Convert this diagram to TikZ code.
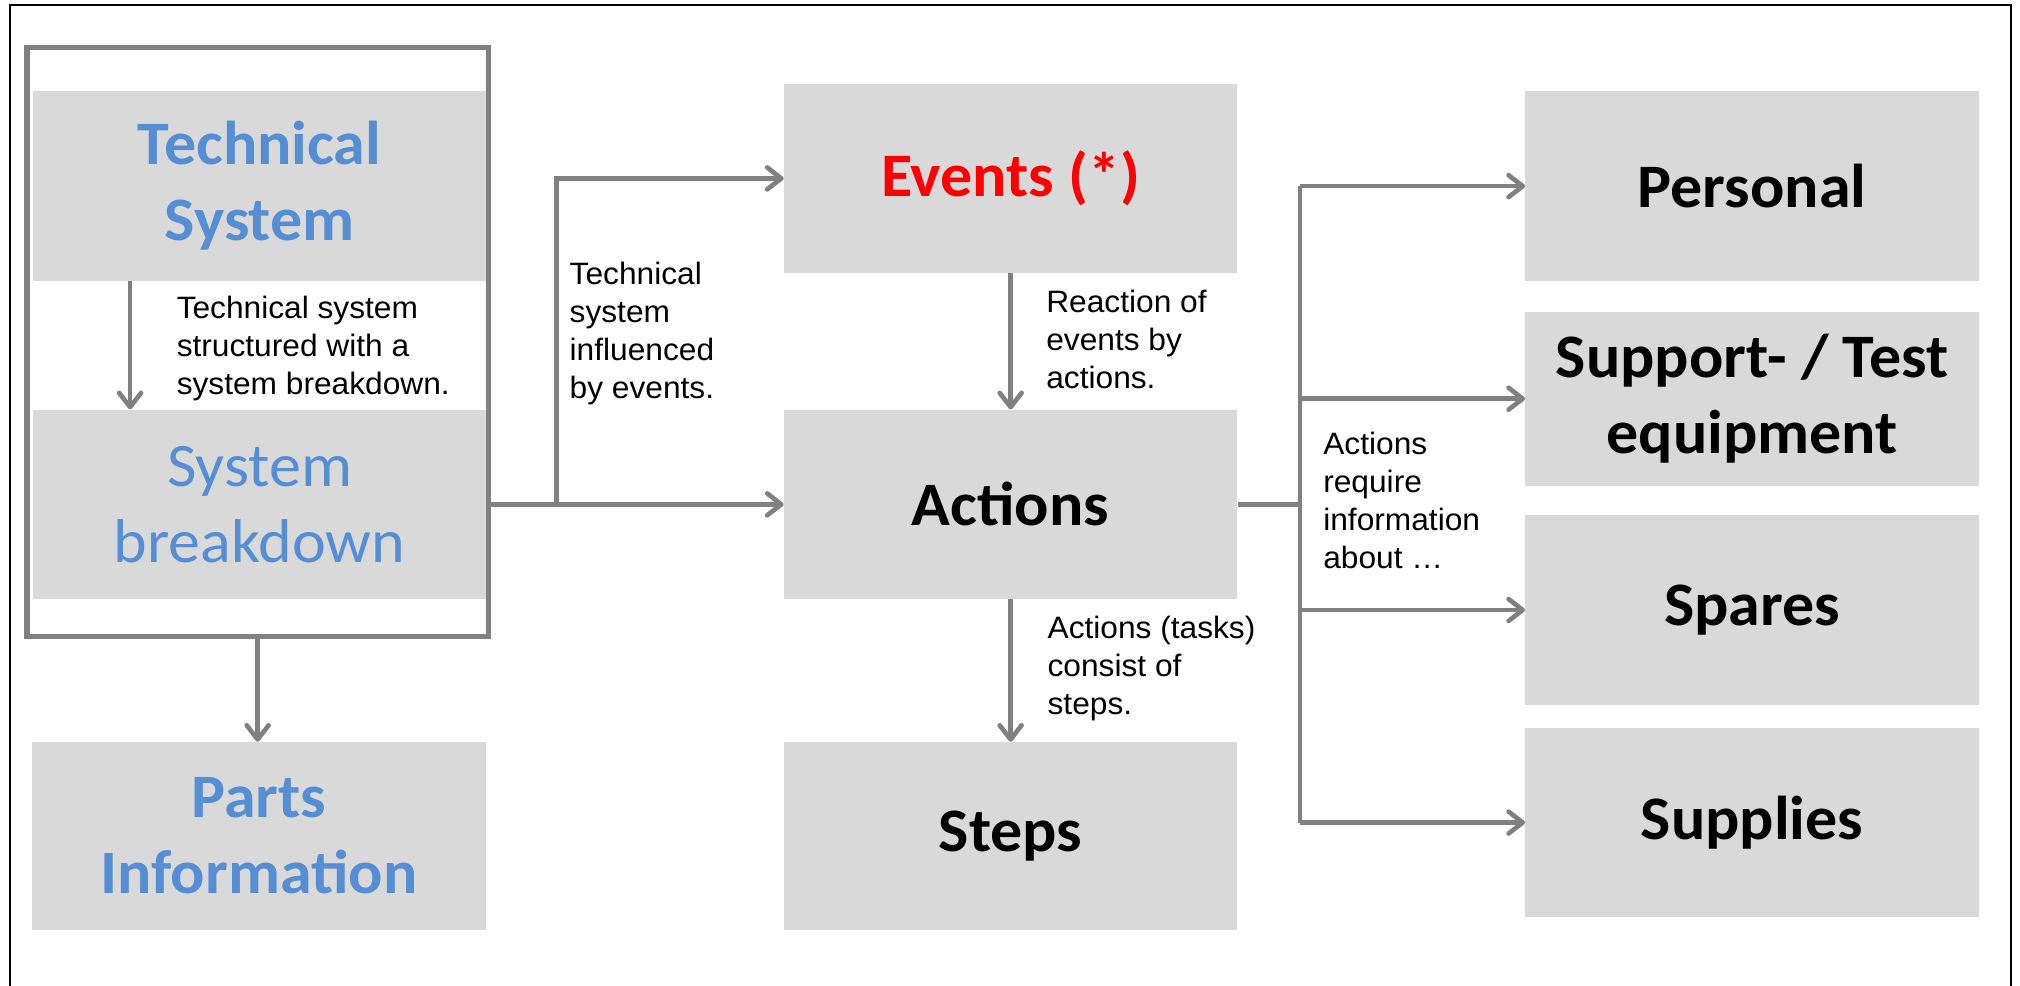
\documentclass[tikz,border=0pt]{standalone}
\usepackage{fontspec}
\setmainfont{Liberation Sans}[FakeStretch=1.025]
\newfontfamily\calibri{Carlito}[FakeStretch=1.035]
\usetikzlibrary{arrows.meta}
\definecolor{boxgray}{HTML}{D9D9D9}
\definecolor{linegray}{HTML}{808080}
\definecolor{headblue}{HTML}{558ED5}
\definecolor{evred}{HTML}{FF0000}
\begin{document}
\begin{tikzpicture}[x=1pt,y=-1pt,
 box/.style={fill=boxgray, draw=none, inner sep=0pt, minimum width=352pt, minimum height=147pt, align=center, font=\calibri\bfseries\fontsize{48}{59}\selectfont},
 lbl/.style={anchor=north west, inner sep=0pt, align=left, font=\fontsize{24}{29.5}\selectfont},
 conn/.style={draw=linegray, line width=3.6pt},
 arr/.style={conn, -{Straight Barb[length=11pt,width=17pt,round]}},
]
\useasboundingbox (0,0) rectangle (1568,765);
% outer border
\draw[black, line width=1.3pt] (8,780) -- (8,4) -- (1561,4) -- (1561,780);

% left column
\node[draw=linegray, line width=4pt, minimum width=358pt, minimum height=457pt, inner sep=0pt] (frame) at (200,265.5) {};
\node[box, text=headblue] (ts) at (201.5,144.5) {Technical\\System};
\node[box, text=headblue, font=\calibri\mdseries\fontsize{48}{59}\selectfont] (sb) at (201.5,391.5) {System\\breakdown};
\node[box, text=headblue, minimum height=146pt] (pi) at (201,649) {Parts\\Information};

% middle column
\node[box, text=evred] (ev) at (784.5,138.5) {Events (*)};
\node[box] (act) at (784.5,391.5) {Actions};
\node[box, minimum height=146pt] (steps) at (784.5,649) {Steps};

% right column
\node[box] (pers) at (1360,144.5) {Personal};
\node[box, minimum height=135pt] (supt) at (1360,309.5) {Support- / Test\\equipment};
\node[box] (spar) at (1360,473.5) {Spares};
\node[box] (supl) at (1360,638.5) {Supplies};

% connectors left
\draw[arr] ([xshift=-100.5pt]ts.south) -- ([xshift=-100.5pt]sb.north);
\draw[arr] (frame.south) -- (frame.south |- pi.north);
\coordinate (br) at (432,391.5);
\draw[conn] (frame.east |- act.west) -- (br);
\draw[arr] (br) -- (act.west);
\draw[arr] (br) |- (ev.west);

% connectors middle
\draw[arr] (ev.south) -- (act.north);
\draw[arr] (act.south) -- (steps.north);

% connectors right
\coordinate (bus) at (1009,391.5);
\draw[conn] (act.east) -- (bus);
\draw[conn] (bus |- pers.west) -- (bus |- supl.west);
\draw[arr] (bus |- pers.west) -- (pers.west);
\draw[arr] (bus |- supt.west) -- (supt.west);
\draw[arr] (bus |- spar.west) -- (spar.west);
\draw[arr] (bus |- supl.west) -- (supl.west);

% labels
\node[lbl] (l1) at (137,230) {Technical system\\structured with a\\system breakdown.};
\node[lbl] (l2) at (442,203) {Technical\\system\\influenced\\by events.};
\node[lbl] (l3) at (812,225) {Reaction of\\events by\\actions.};
\node[lbl] (l4) at (813,478) {Actions (tasks)\\consist of\\steps.};
\node[lbl] (l5) at (1027,335) {Actions\\require\\information\\about \dots};
\end{tikzpicture}
\end{document}
